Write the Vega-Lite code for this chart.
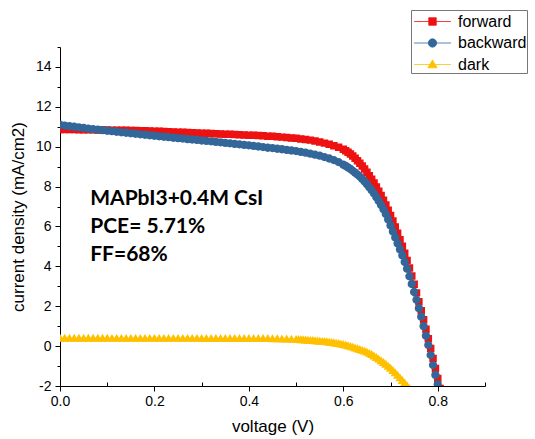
{
  "$schema": "https://vega.github.io/schema/vega-lite/v6.json",
  "width": 425,
  "height": 339,
  "autosize": {"type": "none"},
  "padding": {"left": 60, "top": 47, "right": 50, "bottom": 53},
  "background": "white",
  "config": {
    "view": {"stroke": null},
    "font": "Liberation Sans",
    "axis": {"grid": false, "labelFlush": false, "domainColor": "black", "tickColor": "black", "labelColor": "black", "titleColor": "black", "labelFont": "Liberation Sans", "titleFont": "Liberation Sans", "titleFontWeight": "normal"}
  },
  "datasets": {
    "iv": [
      {"s":"forward","v":0.00,"j":10.86},{"s":"forward","v":0.01,"j":10.86},{"s":"forward","v":0.02,"j":10.86},{"s":"forward","v":0.03,"j":10.86},{"s":"forward","v":0.04,"j":10.85},{"s":"forward","v":0.05,"j":10.85},{"s":"forward","v":0.06,"j":10.85},{"s":"forward","v":0.07,"j":10.85},{"s":"forward","v":0.08,"j":10.84},{"s":"forward","v":0.09,"j":10.84},
      {"s":"forward","v":0.10,"j":10.84},{"s":"forward","v":0.11,"j":10.83},{"s":"forward","v":0.12,"j":10.83},{"s":"forward","v":0.13,"j":10.82},{"s":"forward","v":0.14,"j":10.82},{"s":"forward","v":0.15,"j":10.81},{"s":"forward","v":0.16,"j":10.81},{"s":"forward","v":0.17,"j":10.80},{"s":"forward","v":0.18,"j":10.80},{"s":"forward","v":0.19,"j":10.79},
      {"s":"forward","v":0.20,"j":10.78},{"s":"forward","v":0.21,"j":10.77},{"s":"forward","v":0.22,"j":10.76},{"s":"forward","v":0.23,"j":10.75},{"s":"forward","v":0.24,"j":10.74},{"s":"forward","v":0.25,"j":10.73},{"s":"forward","v":0.26,"j":10.72},{"s":"forward","v":0.27,"j":10.71},{"s":"forward","v":0.28,"j":10.70},{"s":"forward","v":0.29,"j":10.69},
      {"s":"forward","v":0.30,"j":10.68},{"s":"forward","v":0.31,"j":10.67},{"s":"forward","v":0.32,"j":10.66},{"s":"forward","v":0.33,"j":10.65},{"s":"forward","v":0.34,"j":10.64},{"s":"forward","v":0.35,"j":10.63},{"s":"forward","v":0.36,"j":10.62},{"s":"forward","v":0.37,"j":10.61},{"s":"forward","v":0.38,"j":10.60},{"s":"forward","v":0.39,"j":10.59},
      {"s":"forward","v":0.40,"j":10.58},{"s":"forward","v":0.41,"j":10.57},{"s":"forward","v":0.42,"j":10.56},{"s":"forward","v":0.43,"j":10.55},{"s":"forward","v":0.44,"j":10.53},{"s":"forward","v":0.45,"j":10.52},{"s":"forward","v":0.46,"j":10.50},{"s":"forward","v":0.47,"j":10.48},{"s":"forward","v":0.48,"j":10.46},{"s":"forward","v":0.49,"j":10.44},
      {"s":"forward","v":0.50,"j":10.42},{"s":"forward","v":0.51,"j":10.39},{"s":"forward","v":0.52,"j":10.36},{"s":"forward","v":0.53,"j":10.33},{"s":"forward","v":0.54,"j":10.29},{"s":"forward","v":0.55,"j":10.24},{"s":"forward","v":0.56,"j":10.18},{"s":"forward","v":0.57,"j":10.12},{"s":"forward","v":0.58,"j":10.05},{"s":"forward","v":0.59,"j":9.97},
      {"s":"forward","v":0.600,"j":9.87},{"s":"forward","v":0.605,"j":9.80},{"s":"forward","v":0.610,"j":9.72},{"s":"forward","v":0.615,"j":9.63},{"s":"forward","v":0.620,"j":9.53},{"s":"forward","v":0.625,"j":9.42},{"s":"forward","v":0.630,"j":9.30},{"s":"forward","v":0.635,"j":9.17},{"s":"forward","v":0.640,"j":9.03},{"s":"forward","v":0.645,"j":8.88},
      {"s":"forward","v":0.650,"j":8.72},{"s":"forward","v":0.655,"j":8.55},{"s":"forward","v":0.660,"j":8.37},{"s":"forward","v":0.665,"j":8.18},{"s":"forward","v":0.670,"j":7.98},{"s":"forward","v":0.675,"j":7.77},{"s":"forward","v":0.680,"j":7.55},{"s":"forward","v":0.685,"j":7.32},{"s":"forward","v":0.690,"j":7.08},{"s":"forward","v":0.695,"j":6.82},
      {"s":"forward","v":0.700,"j":6.55},{"s":"forward","v":0.705,"j":6.27},{"s":"forward","v":0.710,"j":5.97},{"s":"forward","v":0.715,"j":5.66},{"s":"forward","v":0.720,"j":5.34},{"s":"forward","v":0.725,"j":5.01},{"s":"forward","v":0.730,"j":4.66},{"s":"forward","v":0.735,"j":4.30},{"s":"forward","v":0.740,"j":3.92},{"s":"forward","v":0.745,"j":3.52},
      {"s":"forward","v":0.750,"j":3.10},{"s":"forward","v":0.755,"j":2.67},{"s":"forward","v":0.760,"j":2.23},{"s":"forward","v":0.765,"j":1.78},{"s":"forward","v":0.770,"j":1.32},{"s":"forward","v":0.775,"j":0.85},{"s":"forward","v":0.780,"j":0.37},{"s":"forward","v":0.785,"j":-0.12},{"s":"forward","v":0.790,"j":-0.62},{"s":"forward","v":0.795,"j":-1.12},
      {"s":"forward","v":0.800,"j":-1.62},{"s":"forward","v":0.805,"j":-2.12},

      {"s":"backward","v":0.00,"j":11.10},{"s":"backward","v":0.01,"j":11.06},{"s":"backward","v":0.02,"j":11.03},{"s":"backward","v":0.03,"j":11.00},{"s":"backward","v":0.04,"j":10.97},{"s":"backward","v":0.05,"j":10.94},{"s":"backward","v":0.06,"j":10.91},{"s":"backward","v":0.07,"j":10.88},{"s":"backward","v":0.08,"j":10.86},{"s":"backward","v":0.09,"j":10.83},
      {"s":"backward","v":0.10,"j":10.80},{"s":"backward","v":0.11,"j":10.78},{"s":"backward","v":0.12,"j":10.75},{"s":"backward","v":0.13,"j":10.72},{"s":"backward","v":0.14,"j":10.70},{"s":"backward","v":0.15,"j":10.67},{"s":"backward","v":0.16,"j":10.65},{"s":"backward","v":0.17,"j":10.62},{"s":"backward","v":0.18,"j":10.60},{"s":"backward","v":0.19,"j":10.57},
      {"s":"backward","v":0.20,"j":10.55},{"s":"backward","v":0.21,"j":10.52},{"s":"backward","v":0.22,"j":10.50},{"s":"backward","v":0.23,"j":10.48},{"s":"backward","v":0.24,"j":10.45},{"s":"backward","v":0.25,"j":10.43},{"s":"backward","v":0.26,"j":10.41},{"s":"backward","v":0.27,"j":10.38},{"s":"backward","v":0.28,"j":10.36},{"s":"backward","v":0.29,"j":10.34},
      {"s":"backward","v":0.30,"j":10.31},{"s":"backward","v":0.31,"j":10.29},{"s":"backward","v":0.32,"j":10.27},{"s":"backward","v":0.33,"j":10.24},{"s":"backward","v":0.34,"j":10.22},{"s":"backward","v":0.35,"j":10.19},{"s":"backward","v":0.36,"j":10.17},{"s":"backward","v":0.37,"j":10.14},{"s":"backward","v":0.38,"j":10.12},{"s":"backward","v":0.39,"j":10.09},
      {"s":"backward","v":0.40,"j":10.07},{"s":"backward","v":0.41,"j":10.04},{"s":"backward","v":0.42,"j":10.01},{"s":"backward","v":0.43,"j":9.98},{"s":"backward","v":0.44,"j":9.95},{"s":"backward","v":0.45,"j":9.93},{"s":"backward","v":0.46,"j":9.90},{"s":"backward","v":0.47,"j":9.87},{"s":"backward","v":0.48,"j":9.84},{"s":"backward","v":0.49,"j":9.81},
      {"s":"backward","v":0.50,"j":9.78},{"s":"backward","v":0.51,"j":9.74},{"s":"backward","v":0.52,"j":9.70},{"s":"backward","v":0.53,"j":9.65},{"s":"backward","v":0.54,"j":9.60},{"s":"backward","v":0.55,"j":9.55},{"s":"backward","v":0.56,"j":9.48},{"s":"backward","v":0.57,"j":9.41},{"s":"backward","v":0.58,"j":9.33},{"s":"backward","v":0.59,"j":9.23},
      {"s":"backward","v":0.600,"j":9.10},{"s":"backward","v":0.605,"j":9.03},{"s":"backward","v":0.610,"j":8.96},{"s":"backward","v":0.615,"j":8.88},{"s":"backward","v":0.620,"j":8.79},{"s":"backward","v":0.625,"j":8.70},{"s":"backward","v":0.630,"j":8.60},{"s":"backward","v":0.635,"j":8.50},{"s":"backward","v":0.640,"j":8.38},{"s":"backward","v":0.645,"j":8.25},
      {"s":"backward","v":0.650,"j":8.12},{"s":"backward","v":0.655,"j":7.97},{"s":"backward","v":0.660,"j":7.82},{"s":"backward","v":0.665,"j":7.65},{"s":"backward","v":0.670,"j":7.47},{"s":"backward","v":0.675,"j":7.28},{"s":"backward","v":0.680,"j":7.08},{"s":"backward","v":0.685,"j":6.86},{"s":"backward","v":0.690,"j":6.62},{"s":"backward","v":0.695,"j":6.35},
      {"s":"backward","v":0.700,"j":6.05},{"s":"backward","v":0.705,"j":5.75},{"s":"backward","v":0.710,"j":5.45},{"s":"backward","v":0.715,"j":5.15},{"s":"backward","v":0.720,"j":4.85},{"s":"backward","v":0.725,"j":4.55},{"s":"backward","v":0.730,"j":4.22},{"s":"backward","v":0.735,"j":3.88},{"s":"backward","v":0.740,"j":3.50},{"s":"backward","v":0.745,"j":3.12},
      {"s":"backward","v":0.750,"j":2.72},{"s":"backward","v":0.755,"j":2.32},{"s":"backward","v":0.760,"j":1.90},{"s":"backward","v":0.765,"j":1.47},{"s":"backward","v":0.770,"j":1.00},{"s":"backward","v":0.775,"j":0.52},{"s":"backward","v":0.780,"j":0.05},{"s":"backward","v":0.785,"j":-0.45},{"s":"backward","v":0.790,"j":-0.95},{"s":"backward","v":0.795,"j":-1.45},
      {"s":"backward","v":0.800,"j":-1.92},{"s":"backward","v":0.805,"j":-2.40},

      {"s":"dark","v":0.00,"j":0.39},{"s":"dark","v":0.01,"j":0.39},{"s":"dark","v":0.02,"j":0.39},{"s":"dark","v":0.03,"j":0.39},{"s":"dark","v":0.04,"j":0.39},{"s":"dark","v":0.05,"j":0.39},{"s":"dark","v":0.06,"j":0.39},{"s":"dark","v":0.07,"j":0.39},{"s":"dark","v":0.08,"j":0.39},{"s":"dark","v":0.09,"j":0.39},
      {"s":"dark","v":0.10,"j":0.39},{"s":"dark","v":0.11,"j":0.38},{"s":"dark","v":0.12,"j":0.38},{"s":"dark","v":0.13,"j":0.38},{"s":"dark","v":0.14,"j":0.38},{"s":"dark","v":0.15,"j":0.38},{"s":"dark","v":0.16,"j":0.38},{"s":"dark","v":0.17,"j":0.38},{"s":"dark","v":0.18,"j":0.38},{"s":"dark","v":0.19,"j":0.38},
      {"s":"dark","v":0.20,"j":0.38},{"s":"dark","v":0.21,"j":0.38},{"s":"dark","v":0.22,"j":0.38},{"s":"dark","v":0.23,"j":0.38},{"s":"dark","v":0.24,"j":0.38},{"s":"dark","v":0.25,"j":0.38},{"s":"dark","v":0.26,"j":0.38},{"s":"dark","v":0.27,"j":0.38},{"s":"dark","v":0.28,"j":0.38},{"s":"dark","v":0.29,"j":0.38},
      {"s":"dark","v":0.30,"j":0.37},{"s":"dark","v":0.31,"j":0.37},{"s":"dark","v":0.32,"j":0.37},{"s":"dark","v":0.33,"j":0.37},{"s":"dark","v":0.34,"j":0.37},{"s":"dark","v":0.35,"j":0.37},{"s":"dark","v":0.36,"j":0.37},{"s":"dark","v":0.37,"j":0.37},{"s":"dark","v":0.38,"j":0.37},{"s":"dark","v":0.39,"j":0.37},
      {"s":"dark","v":0.40,"j":0.37},{"s":"dark","v":0.41,"j":0.37},{"s":"dark","v":0.42,"j":0.37},{"s":"dark","v":0.43,"j":0.37},{"s":"dark","v":0.44,"j":0.37},{"s":"dark","v":0.45,"j":0.36},{"s":"dark","v":0.46,"j":0.36},{"s":"dark","v":0.47,"j":0.35},{"s":"dark","v":0.48,"j":0.35},{"s":"dark","v":0.49,"j":0.34},
      {"s":"dark","v":0.500,"j":0.33},{"s":"dark","v":0.505,"j":0.32},{"s":"dark","v":0.510,"j":0.31},{"s":"dark","v":0.515,"j":0.31},{"s":"dark","v":0.520,"j":0.30},{"s":"dark","v":0.525,"j":0.29},{"s":"dark","v":0.530,"j":0.28},{"s":"dark","v":0.535,"j":0.27},{"s":"dark","v":0.540,"j":0.26},{"s":"dark","v":0.545,"j":0.25},
      {"s":"dark","v":0.550,"j":0.24},{"s":"dark","v":0.555,"j":0.23},{"s":"dark","v":0.560,"j":0.22},{"s":"dark","v":0.565,"j":0.21},{"s":"dark","v":0.570,"j":0.19},{"s":"dark","v":0.575,"j":0.18},{"s":"dark","v":0.580,"j":0.16},{"s":"dark","v":0.585,"j":0.14},{"s":"dark","v":0.590,"j":0.12},{"s":"dark","v":0.595,"j":0.09},
      {"s":"dark","v":0.600,"j":0.07},{"s":"dark","v":0.605,"j":0.04},{"s":"dark","v":0.610,"j":0.01},{"s":"dark","v":0.615,"j":-0.02},{"s":"dark","v":0.620,"j":-0.06},{"s":"dark","v":0.625,"j":-0.10},{"s":"dark","v":0.630,"j":-0.14},{"s":"dark","v":0.635,"j":-0.18},{"s":"dark","v":0.640,"j":-0.22},{"s":"dark","v":0.645,"j":-0.26},
      {"s":"dark","v":0.650,"j":-0.31},{"s":"dark","v":0.655,"j":-0.37},{"s":"dark","v":0.660,"j":-0.43},{"s":"dark","v":0.665,"j":-0.50},{"s":"dark","v":0.670,"j":-0.58},{"s":"dark","v":0.675,"j":-0.66},{"s":"dark","v":0.680,"j":-0.74},{"s":"dark","v":0.685,"j":-0.83},{"s":"dark","v":0.690,"j":-0.92},{"s":"dark","v":0.695,"j":-1.02},
      {"s":"dark","v":0.700,"j":-1.12},{"s":"dark","v":0.705,"j":-1.23},{"s":"dark","v":0.710,"j":-1.35},{"s":"dark","v":0.715,"j":-1.47},{"s":"dark","v":0.720,"j":-1.60},{"s":"dark","v":0.725,"j":-1.73},{"s":"dark","v":0.730,"j":-1.86},{"s":"dark","v":0.735,"j":-2.00},{"s":"dark","v":0.740,"j":-2.14}
    ]
  },
  "data": {"name": "iv"},
  "resolve": {"axis": {"x": "independent", "y": "independent"}},
  "layer": [
    {
      "mark": {"type": "line", "strokeWidth": 1, "clip": true},
      "encoding": {
        "x": {"field": "v", "type": "quantitative", "scale": {"domain": [0, 0.9], "nice": false, "zero": false},
              "axis": {"orient": "bottom", "values": [0, 0.2, 0.4, 0.6, 0.8], "format": ".1f", "tickSize": 5, "labelFontSize": 14, "labelPadding": 3, "title": "voltage (V)", "titleFontSize": 17, "titlePadding": 10}},
        "y": {"field": "j", "type": "quantitative", "scale": {"domain": [-2, 15], "nice": false, "zero": false},
              "axis": {"orient": "left", "values": [-2, 0, 2, 4, 6, 8, 10, 12, 14], "labelExpr": "'' + datum.value", "tickSize": 5, "labelFontSize": 14, "labelPadding": 4, "title": "current density (mA/cm2)", "titleFontSize": 17, "titlePadding": 8}},
        "color": {"field": "s", "type": "nominal", "scale": {"domain": ["forward", "backward", "dark"], "range": ["#ee1111", "#336699", "#ffc000"]},
                  "legend": {"orient": "none", "legendX": 351, "legendY": -37, "title": null, "strokeColor": "#777777", "fillColor": "white", "padding": 0, "labelFontSize": 16, "labelFont": "Liberation Sans", "labelColor": "black", "symbolSize": 484, "symbolStrokeWidth": 0.8, "rowPadding": 1.5, "symbolOffset": 10, "labelOffset": 14}},
        "detail": {"field": "s"}
      }
    },
    {
      "mark": {"type": "point", "filled": true, "opacity": 1, "clip": true, "strokeWidth": 0},
      "encoding": {
        "x": {"field": "v", "type": "quantitative",
              "axis": {"orient": "bottom", "values": [0.1, 0.3, 0.5, 0.7, 0.9], "labels": false, "domain": false, "tickSize": -4, "title": null}},
        "y": {"field": "j", "type": "quantitative",
              "axis": {"orient": "left", "values": [-1, 1, 3, 5, 7, 9, 11, 13, 15], "labels": false, "domain": false, "tickSize": 3, "title": null}},
        "color": {"field": "s", "type": "nominal"},
        "stroke": {"field": "s", "type": "nominal", "scale": {"domain": ["forward", "backward", "dark"], "range": ["#ee1111", "#336699", "#ffc000"]}},
        "shape": {"field": "s", "type": "nominal", "scale": {"domain": ["forward", "backward", "dark"], "range": [
          "M-1.68,0H1.68M-0.34,-0.34H0.34V0.34H-0.34Z",
          "M-1.68,0H1.68M0.38,0A0.38,0.38,0,1,1,-0.38,0A0.38,0.38,0,1,1,0.38,0Z",
          "M-1.68,0H1.68M0,-0.42L0.42,0.3L-0.42,0.3Z"]}},
        "size": {"value": 484}
      }
    },
    {
      "data": {"values": [{"note": "cell"}]},
      "mark": {"type": "text", "align": "left", "baseline": "top", "font": "Lato", "fontWeight": "bold", "fontSize": 21, "lineHeight": 28, "color": "black"},
      "encoding": {
        "x": {"datum": 0.064, "type": "quantitative", "axis": null},
        "y": {"datum": 7.95, "type": "quantitative", "axis": null},
        "text": {"value": ["MAPbI3+0.4M CsI", "PCE= 5.71%", "FF=68%"]}
      }
    }
  ]
}
